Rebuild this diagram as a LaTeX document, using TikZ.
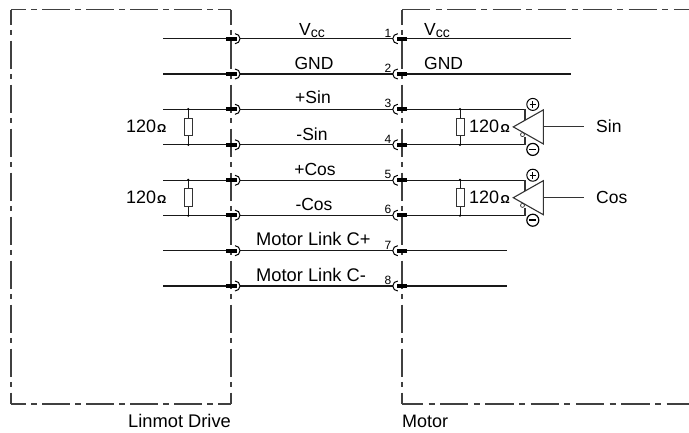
\documentclass[tikz,border=0pt]{standalone}
\usepackage{fontspec}
\setmainfont{Liberation Sans}
\newcommand{\pxfont}[1]{\fontsize{#1}{#1}\selectfont}
\begin{document}
\begin{tikzpicture}[x=1pt,y=-1pt,
  wire/.style={line width=1.3pt,black!90},
  frame/.style={line width=1.3pt,black!75,dash pattern=on 28pt off 5.4pt on 5.2pt off 5.4pt},
  frameb/.style={line width=1.3pt,black!75,dash pattern=on 28.3pt off 5.5pt on 6pt off 5.5pt},
  bar/.style={line width=4pt,black},
  socket/.style={line width=1pt,black},
  res/.style={draw=black!80,line width=1pt,fill=white,minimum width=8pt,minimum height=17.5pt,inner sep=0pt},
  amp/.style={line width=1.1pt,black!80},
  sign/.style={circle,draw=black,line width=1pt,minimum size=12pt,inner sep=0pt},
  lab/.style={font=\pxfont{17.5},inner sep=0pt},
  link/.style={font=\pxfont{18.3},inner sep=0pt},
  big/.style={font=\pxfont{18},inner sep=0pt},
  num/.style={font=\pxfont{12},inner sep=0pt},
  ohm/.style={font=\pxfont{11.5}\bfseries,inner sep=0pt},
  dotj/.style={circle,fill=black,inner sep=0pt,minimum size=2.2pt}]
\useasboundingbox (0,0) rectangle (689,432);
% frames
\draw[frame,dash phase=13pt] (11,9.5) -- (231,9.5);
\draw[frame,dash phase=13pt] (11,9.5) -- (11,404);
\draw[frame,dash phase=13pt] (231,9.5) -- (231,404);
\draw[frame,dash phase=13pt] (11,404) -- (231,404);
\draw[frameb,dash phase=0pt] (402,9.5) -- (689,9.5);
\draw[frame,dash phase=13pt] (402,9.5) -- (402,404);
\draw[frameb,dash phase=7.3pt] (402,404) -- (689,404);
% wires and contacts
\foreach \n/\y/\xl/\xr in {1/38.7/163/571,2/74/163/571,3/109.3/163/525,4/144.8/163/525,5/180.3/163/525,6/215.2/163/525,7/250.7/163/507,8/286/163/507}{
  \coordinate (ls\n) at (\xl,\y);
  \coordinate (lb\n) at (226,\y);
  \coordinate (la\n) at (240,\y);
  \coordinate (ra\n) at (392.8,\y);
  \coordinate (rb\n) at (407,\y);
  \coordinate (re\n) at (\xr,\y);
  \draw[wire] (ls\n) -- (lb\n);
  \draw[wire] (la\n) -- (ra\n);
  \draw[wire] (rb\n) -- (re\n);
  \draw[bar] (lb\n) -- ++(10.5,0);
  \draw[bar] (rb\n) -- ++(-10.5,0);
  \draw[socket] (la\n) ++(-5,-5) arc[start angle=90,end angle=-90,radius=5pt];
  \draw[socket] (ra\n) ++(5,-5) arc[start angle=90,end angle=270,radius=5pt];
  \node[num,anchor=south] (n\n) at (388,\y-1.5) {\n};
}
% signal labels
\node[lab,anchor=base] (tv) at (312,35) {V\raisebox{-2.5pt}{\pxfont{14}cc}};
\node[lab,anchor=base] (tg) at (314,69) {GND};
\node[lab,anchor=base] (ts) at (313,103) {+Sin};
\node[lab,anchor=base] (tms) at (312,140) {-Sin};
\node[lab,anchor=base] (tc) at (315,175) {+Cos};
\node[lab,anchor=base] (tmc) at (314,210) {-Cos};
\node[link,anchor=base west] (tl1) at (256,245.5) {Motor Link C+};
\node[link,anchor=base west] (tl2) at (256,281) {Motor Link C-};
\node[lab,anchor=base west] (rv) at (424,35) {V\raisebox{-2.5pt}{\pxfont{14}cc}};
\node[lab,anchor=base west] (rg) at (424,69) {GND};
% left resistors
\foreach \k/\c in {A/126.9,B/197.7}{
  \node[res] (rl\k) at (188.3,\c) {};
  \draw[wire,line width=.9pt] (rl\k) -- (188.3,\c-18) node[dotj,pos=1] (jla\k) {};
  \draw[wire,line width=.9pt] (rl\k) -- (188.3,\c+18) node[dotj,pos=1] (jlb\k) {};
  \node[big,anchor=base west] (tl\k) at (126,\c+6) {120};
  \node[ohm,anchor=base west] (ol\k) at (157,\c+6) {Ω};
}
% right resistors and amplifiers
\foreach \k/\c/\s in {A/126.9/Sin,B/197.7/Cos}{
  \node[res] (rr\k) at (460,\c) {};
  \draw[wire,line width=.9pt] (rr\k) -- (460,\c-18) node[dotj,pos=1] (jra\k) {};
  \draw[wire,line width=.9pt] (rr\k) -- (460,\c+18) node[dotj,pos=1] (jrb\k) {};
  \node[big,anchor=base west] (tr\k) at (469,\c+6) {120};
  \node[ohm,anchor=base west] (or\k) at (500.5,\c+6) {Ω};
  \coordinate (t1\k) at (513.3,\c);
  \coordinate (t2\k) at (543.3,\c-17);
  \coordinate (t3\k) at (543.3,\c+17);
  \coordinate (o\k) at (584,\c);
  \draw[amp] (t1\k) -- (t2\k) -- (t3\k) -- cycle;
  \draw[amp] (543.3,\c) -- (o\k);
  \draw[amp] (525,\c-17.6) -- (525,\c-7);
  \draw[amp] (525,\c+17.9) -- (525,\c+10.5);
  \draw[line width=.7pt,black!80] (522.5,\c+7.7) circle[radius=2pt];
  \node[sign] (pl\k) at (532.8,\c-22.5) {};
  \draw[line width=1pt] (529.5,\c-22.5) -- (536.1,\c-22.5) (532.8,\c-25.8) -- (532.8,\c-19.2);
  \node[sign,line width=1.2pt] (mi\k) at (532.8,\c+22.5) {};
  \draw[line width=1.6pt] (529.3,\c+22.5) -- (536.3,\c+22.5);
  \node[lab,anchor=base west] (sg\k) at (596,\c+5.5) {\s};
}
% box captions
\node[link,anchor=base west] (cl) at (128,427) {Linmot Drive};
\node[big,anchor=base west] (cr) at (402,427) {Motor};
\end{tikzpicture}
\end{document}
